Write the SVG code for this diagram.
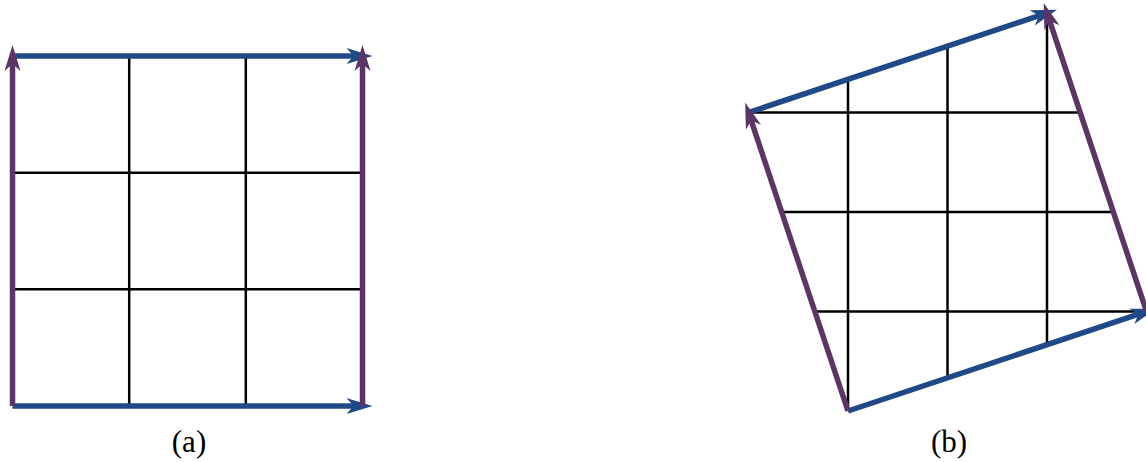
<svg xmlns="http://www.w3.org/2000/svg" width="1146" height="462" viewBox="0 0 1146 462">
  <style>
    .grid { stroke: #000; stroke-width: 2.5; fill: none; }
    .blue { stroke: #204a87; stroke-width: 5.5; fill: none; stroke-linecap: butt; marker-end: url(#hb); }
    .purple { stroke: #5c3566; stroke-width: 5.5; fill: none; stroke-linecap: butt; marker-end: url(#hp); }
    .lbl { font-family: "Liberation Serif", "DejaVu Serif", serif; font-size: 31px; fill: #000; text-anchor: middle; }
  </style>
  <defs>
    <marker id="hb" markerUnits="userSpaceOnUse" orient="auto" refX="0" refY="0" markerWidth="40" markerHeight="40" overflow="visible">
      <path d="M18,0 L-8,-8 L-1,0 L-8,8 Z" fill="#204a87"/>
    </marker>
    <marker id="hp" markerUnits="userSpaceOnUse" orient="auto" refX="0" refY="0" markerWidth="40" markerHeight="40" overflow="visible">
      <path d="M18,0 L-8,-8 L-1,0 L-8,8 Z" fill="#5c3566"/>
    </marker>
  </defs>

  <g id="figure-a">
    <g id="grid-a" class="grid">
      <line x1="129.2" y1="56" x2="129.2" y2="406"/>
      <line x1="245.8" y1="56" x2="245.8" y2="406"/>
      <line x1="12.5" y1="172.7" x2="362.5" y2="172.7"/>
      <line x1="12.5" y1="289.3" x2="362.5" y2="289.3"/>
    </g>
    <g id="connectors-a">
      <line class="blue" x1="12.5" y1="406" x2="354.5" y2="406"/>
      <line class="blue" x1="12.5" y1="56" x2="354.5" y2="56"/>
      <line class="purple" x1="12.5" y1="406" x2="12.5" y2="63"/>
      <line class="purple" x1="362.5" y1="406" x2="362.5" y2="63"/>
    </g>
    <text id="label-a" class="lbl" x="189" y="452">(a)</text>
  </g>

  <g id="figure-b">
    <g id="grid-b" class="grid">
      <line x1="814.8" y1="311.5" x2="1146.5" y2="311.5"/>
      <line x1="781.7" y1="212" x2="1113.3" y2="212"/>
      <line x1="748.5" y1="112.5" x2="1080" y2="112.5"/>
      <line x1="848" y1="411" x2="848" y2="79.3"/>
      <line x1="947.5" y1="377.8" x2="947.5" y2="46.3"/>
      <line x1="1047" y1="344.7" x2="1047" y2="13"/>
    </g>
    <g id="connectors-b">
      <line class="blue" x1="848" y1="411" x2="1139.4" y2="313.9"/>
      <line class="blue" x1="748.5" y1="112.5" x2="1039.9" y2="15.4"/>
      <line class="purple" x1="848" y1="411" x2="750.9" y2="119.6"/>
      <line class="purple" x1="1146.5" y1="311.5" x2="1049.4" y2="20.1"/>
    </g>
    <text id="label-b" class="lbl" x="949" y="452">(b)</text>
  </g>
</svg>
